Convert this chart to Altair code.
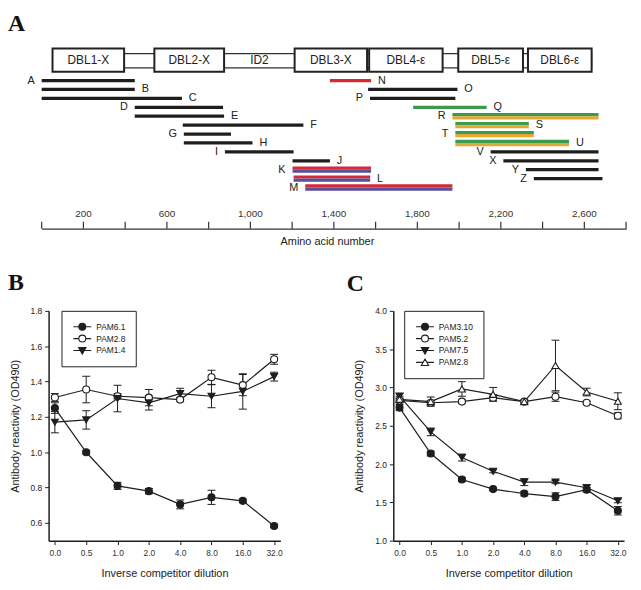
import altair as alt
import pandas as pd

# ---------------- Panel A data ----------------
dom_names = ["DBL1-X", "DBL2-X", "ID2", "DBL3-X", "DBL4-ε", "DBL5-ε", "DBL6-ε"]
dom_start = [52, 540, 874, 1212, 1569, 1996, 2330]
dom_end = [395, 874, 1212, 1559, 1921, 2306, 2635]
dom_box = [True, True, False, True, True, True, True]

c_labels = ["A", "B", "C", "D", "E", "F", "G", "H", "I", "J", "K", "L", "M",
            "N", "O", "P", "Q", "R", "S", "T", "U", "V", "X", "Y", "Z"]
c_start = [0, 0, 0, 446, 446, 676, 681, 681, 878, 1202, 1202, 1207, 1263,
           1381, 1564, 1573, 1780, 1968, 1982, 1982, 1982, 2151, 2212, 2320, 2358]
c_end = [446, 446, 672, 869, 874, 1254, 907, 1010, 1207, 1381, 1578, 1574, 1968,
         1578, 1992, 1982, 2132, 2668, 2334, 2358, 2527, 2668, 2668, 2668, 2687]
c_row = [1, 2, 3, 4, 5, 6, 7, 8, 9, 10, 11, 12, 13,
         1, 2, 3, 4, 5, 6, 7, 8, 9, 10, 11, 12]
c_scheme = ["k", "k", "k", "k", "k", "k", "k", "k", "k", "k", "rb", "rb", "rb",
            "r", "k", "k", "g", "go", "go", "go", "go", "k", "k", "k", "k"]
c_side = ["L", "R", "R", "L", "R", "R", "L", "R", "L", "R", "L", "R", "L",
          "R", "R", "L", "R", "L", "R", "L", "R", "L", "L", "L", "L"]

axis_ticks = [0, 200, 400, 600, 800, 1000, 1200, 1400, 1600, 1800, 2000, 2200, 2400, 2600, 2800]
axis_labels = [200, 600, 1000, 1400, 1800, 2200, 2600]

# ---------------- Panels B / C data ----------------
dilutions = ["0.0", "0.5", "1.0", "2.0", "4.0", "8.0", "16.0", "32.0"]

b_series = ["PAM6.1", "PAM2.8", "PAM1.4"]
b_pam61_mean = [1.25, 1.00, 0.81, 0.78, 0.705, 0.745, 0.725, 0.583]
b_pam61_err = [0.03, 0.01, 0.02, 0.015, 0.025, 0.04, 0.01, 0.01]
b_pam28_mean = [1.31, 1.355, 1.317, 1.309, 1.298, 1.424, 1.38, 1.526]
b_pam28_err = [0.022, 0.075, 0.015, 0.046, 0.012, 0.04, 0.06, 0.028]
b_pam14_mean = [1.17, 1.183, 1.304, 1.279, 1.332, 1.317, 1.344, 1.428]
b_pam14_err = [0.06, 0.052, 0.075, 0.04, 0.03, 0.065, 0.1, 0.025]

c_series = ["PAM3.10", "PAM5.2", "PAM7.5", "PAM2.8"]
c_pam310_mean = [2.737, 2.137, 1.798, 1.673, 1.614, 1.575, 1.665, 1.39]
c_pam310_err = [0.04, 0.03, 0.025, 0.02, 0.03, 0.05, 0.03, 0.055]
c_pam52_mean = [2.83, 2.80, 2.815, 2.866, 2.815, 2.879, 2.80, 2.63]
c_pam52_err = [0.03, 0.03, 0.02, 0.04, 0.02, 0.06, 0.02, 0.04]
c_pam75_mean = [2.888, 2.42, 2.085, 1.905, 1.764, 1.764, 1.69, 1.52]
c_pam75_err = [0.03, 0.05, 0.045, 0.02, 0.045, 0.02, 0.04, 0.025]
c_pam28_mean = [2.845, 2.815, 2.98, 2.91, 2.815, 3.287, 2.94, 2.82]
c_pam28_err = [0.04, 0.06, 0.095, 0.09, 0.02, 0.33, 0.05, 0.11]

# ---------------- styles ----------------
FONT = "Liberation Sans"
SERIF = "Liberation Serif"
INK = "#1e1e1e"
pal_top = {"k": "#1e1e1e", "r": "#d42a33", "g": "#3b9a4c", "rb": "#d42a33", "go": "#3b9a4c"}
pal_bot = {"rb": "#5a4e9c", "go": "#e1a935"}

# ---------------- Panel A ----------------
ddf = pd.DataFrame({"name": dom_names, "start": dom_start, "end": dom_end, "box": dom_box})
ddf["mid"] = (ddf["start"] + ddf["end"]) / 2
cdf = pd.DataFrame({"label": c_labels, "start": c_start, "end": c_end, "row": c_row,
                    "scheme": c_scheme, "side": c_side})
cdf["top"] = cdf["scheme"].map(pal_top)
cdf["bot"] = cdf["scheme"].map(pal_bot).fillna("")

# panel A origin is aligned with panel B's plot origin
xscaleA = alt.Scale(domain=[0, 2800], range=[-7, 583], nice=False, zero=False)
yscaleA = alt.Scale(domain=[0, 13], range=[63.5, 180.5], nice=False, zero=False)
xaxisA = alt.Axis(title="Amino acid number", ticks=False, labels=False, grid=False,
                  domainColor="#333", domainWidth=1.2, titleFontSize=11,
                  titleFontWeight="normal", titleColor="#222", titlePadding=7, titleX=281)


def XA(f):
    return alt.X(f, scale=xscaleA, axis=xaxisA)


def YA(f):
    return alt.Y(f, scale=yscaleA, axis=None)


backbone = alt.Chart(pd.DataFrame({"start": [dom_start[0]], "end": [dom_end[-1]]})).mark_rect(
    fill="white", stroke="#333", strokeWidth=1.1
).encode(x=XA("start:Q"), x2="end:Q", y=alt.value(45.3), y2=alt.value(59.7))

boxes = alt.Chart(ddf).transform_filter("datum.box").mark_rect(
    fill="white", stroke="#222", strokeWidth=2
).encode(x=XA("start:Q"), x2="end:Q", y=alt.value(40.2), y2=alt.value(63.5))

box_text = alt.Chart(ddf).mark_text(fontSize=12, color="#222", baseline="middle").encode(
    x=XA("mid:Q"), y=alt.value(52), text="name:N")

single = alt.Chart(cdf).transform_filter(
    alt.FieldOneOfPredicate(field="scheme", oneOf=["k", "r", "g"])
).mark_rule(strokeWidth=3.3).encode(
    x=XA("start:Q"), x2="end:Q", y=YA("row:Q"), color=alt.Color("top:N", scale=None))

bi_top = alt.Chart(cdf).transform_filter(
    alt.FieldOneOfPredicate(field="scheme", oneOf=["rb", "go"])
).mark_rule(strokeWidth=3.2, yOffset=-1.6).encode(
    x=XA("start:Q"), x2="end:Q", y=YA("row:Q"), color=alt.Color("top:N", scale=None))

bi_bot = alt.Chart(cdf).transform_filter(
    alt.FieldOneOfPredicate(field="scheme", oneOf=["rb", "go"])
).mark_rule(strokeWidth=3.2, yOffset=1.6).encode(
    x=XA("start:Q"), x2="end:Q", y=YA("row:Q"), color=alt.Color("bot:N", scale=None))

lab_l = alt.Chart(cdf).transform_filter("datum.side === 'L'").mark_text(
    align="right", dx=-7, fontSize=11, color="#222", baseline="middle"
).encode(x=XA("start:Q"), y=YA("row:Q"), text="label:N")

lab_r = alt.Chart(cdf).transform_filter("datum.side === 'R'").mark_text(
    align="left", dx=7, fontSize=11, color="#222", baseline="middle"
).encode(x=XA("end:Q"), y=YA("row:Q"), text="label:N")

ticksA = alt.Chart(pd.DataFrame({"t": axis_ticks})).mark_rule(color="#333", strokeWidth=1.2).encode(
    x=XA("t:Q"), y=alt.value(215), y2=alt.value(222))

tlabA = alt.Chart(pd.DataFrame({"t": axis_labels})).mark_text(
    fontSize=10, color="#333", baseline="middle"
).encode(x=XA("t:Q"), y=alt.value(207), text=alt.Text("t:Q", format=","))

letterA = alt.Chart(pd.DataFrame({"t": ["A"]})).mark_text(
    font=SERIF, fontSize=24, fontWeight="bold", align="left", baseline="alphabetic", color="#111"
).encode(x=alt.value(-41), y=alt.value(22), text="t:N")

A = alt.layer(backbone, boxes, box_text, single, bi_top, bi_bot, lab_l, lab_r,
              ticksA, tlabA, letterA).properties(width=583, height=222)

# ---------------- Panels B / C ----------------
# legend symbols: marker with a short line through it
PATHS = {
    ("circle", "black"): "M-0.9,0H0.9M-0.35,0A0.35,0.35,0,1,1,0.35,0A0.35,0.35,0,1,1,-0.35,0Z",
    ("circle", "white"): "M-0.9,0H-0.35M0.35,0H0.9M-0.35,0A0.35,0.35,0,1,1,0.35,0A0.35,0.35,0,1,1,-0.35,0Z",
    ("triangle-down", "black"): "M-0.9,0H0.9M-0.37,-0.3L0.37,-0.3L0,0.36Z",
    ("triangle-up", "white"): "M-0.9,0H-0.19M0.19,0H0.9M0,-0.34L0.37,0.31L-0.37,0.31Z",
}
FILLS = {"black": "#1e1e1e", "white": "white"}

xaxisBC = alt.Axis(title="Inverse competitor dilution", labelAngle=0, tickSize=4, labelPadding=4,
                   titlePadding=11, domainColor=INK, domainWidth=1.5, tickColor=INK, tickWidth=1,
                   labelFontSize=8.5, labelColor="#333", titleFontSize=11, titleFontWeight="normal",
                   titleColor="#222", grid=False)


def make_panel(series, means, errs, shapes, fills, ydomain, yvalues, w, h, letter, lx, ly, legx):
    rows = []
    for s, m, e in zip(series, means, errs):
        for i, (d, v, er) in enumerate(zip(dilutions, m, e)):
            rows.append({"series": s, "dil": d, "i": i, "val": v, "lo": v - er, "hi": v + er})
    df = pd.DataFrame(rows)
    x = alt.X("dil:O", sort=dilutions, scale=alt.Scale(type="point", padding=0.2), axis=xaxisBC)
    ysc = alt.Scale(domain=ydomain, nice=False, zero=False)
    yax = alt.Axis(title="Antibody reactivity (OD490)", values=yvalues, format=".1f", tickSize=4,
                   labelPadding=3, titlePadding=10, domainColor=INK, domainWidth=1.5, tickColor=INK,
                   tickWidth=1, labelFontSize=8.5, labelColor="#222", titleFontSize=11,
                   titleFontWeight="normal", titleColor="#222", grid=False)

    leg = alt.Legend(title=None, orient="none", legendX=legx, legendY=0, offset=0, padding=10,
                     strokeColor="#222", fillColor="white", labelFontSize=8.5, labelColor="#222",
                     labelOffset=3, symbolSize=400, clipHeight=12, rowPadding=0,
                     symbolOpacity=1, symbolStrokeWidth=1.1)

    base = alt.Chart(df)
    lines = base.mark_line(color=INK, strokeWidth=1.2).encode(
        x=x, y=alt.Y("val:Q", scale=ysc, axis=yax), detail="series:N", order="i:Q")
    rules = base.mark_rule(color=INK, strokeWidth=1).encode(
        x=x, y=alt.Y("lo:Q", scale=ysc, axis=yax), y2="hi:Q")
    cap_lo = base.mark_tick(color=INK, thickness=1, size=8, opacity=1).encode(
        x=x, y=alt.Y("lo:Q", scale=ysc, axis=yax))
    cap_hi = base.mark_tick(color=INK, thickness=1, size=8, opacity=1).encode(
        x=x, y=alt.Y("hi:Q", scale=ysc, axis=yax))
    # legend-defining layer (its own marks are transparent)
    legend_layer = base.mark_point(filled=True, opacity=0, strokeWidth=1.1).encode(
        x=x, y=alt.Y("val:Q", scale=ysc, axis=yax),
        shape=alt.Shape("series:N", scale=alt.Scale(domain=series,
                                                    range=[PATHS[(s, f)] for s, f in zip(shapes, fills)]),
                        legend=leg),
        fill=alt.Fill("series:N", scale=alt.Scale(domain=series, range=[FILLS[f] for f in fills]),
                      legend=leg),
        stroke=alt.Stroke("series:N", scale=alt.Scale(domain=series, range=[INK] * len(series)),
                          legend=leg))
    point_layers = []
    for s, sh, fi in zip(series, shapes, fills):
        point_layers.append(
            base.transform_filter(alt.FieldEqualPredicate(field="series", equal=s)).mark_point(
                shape=sh, filled=True, fill=FILLS[fi], size=50, stroke=INK, strokeWidth=1.1, opacity=1
            ).encode(x=x, y=alt.Y("val:Q", scale=ysc, axis=yax)))
    letter_layer = alt.Chart(pd.DataFrame({"t": [letter]})).mark_text(
        font=SERIF, fontSize=24, fontWeight="bold", align="left", baseline="alphabetic", color="#111"
    ).encode(x=alt.value(lx), y=alt.value(ly), text="t:N")
    return alt.layer(lines, rules, cap_lo, cap_hi, legend_layer, *point_layers,
                     letter_layer).properties(width=w, height=h)


B = make_panel(b_series, [b_pam61_mean, b_pam28_mean, b_pam14_mean],
               [b_pam61_err, b_pam28_err, b_pam14_err],
               ["circle", "circle", "triangle-down"], ["black", "white", "black"],
               [0.5, 1.8], [0.6, 0.8, 1.0, 1.2, 1.4, 1.6, 1.8], 234, 232, "B", -41, -21, 13)

C = make_panel(c_series, [c_pam310_mean, c_pam52_mean, c_pam75_mean, c_pam28_mean],
               [c_pam310_err, c_pam52_err, c_pam75_err, c_pam28_err],
               ["circle", "circle", "triangle-down", "triangle-up"], ["black", "white", "black", "white"],
               [1.0, 4.0], [1.0, 1.5, 2.0, 2.5, 3.0, 3.5, 4.0], 233, 232, "C", -47, -20, 11)

RES = dict(shape="independent", fill="independent", stroke="independent")
bottom = alt.hconcat(B, C, spacing=65).resolve_scale(**RES)
chart = alt.vconcat(A, bottom, spacing=25).properties(
    padding={"left": 0, "top": -2, "right": 0, "bottom": 0}
).resolve_scale(**RES).configure(font=FONT).configure_view(strokeWidth=0)

chart.save("out.html", embed_options={"renderer": "svg", "actions": False})
